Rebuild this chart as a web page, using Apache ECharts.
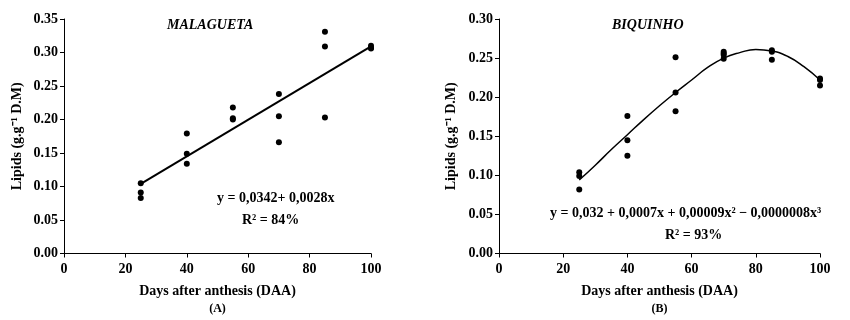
<!DOCTYPE html>
<html>
<head>
<meta charset="utf-8">
<script src="https://cdn.jsdelivr.net/npm/echarts@6/dist/echarts.min.js"></script>
<style>
  html, body { margin: 0; padding: 0; background: #fff; }
  #chart { width: 850px; height: 320px; }
</style>
</head>
<body>
<div id="chart"></div>
<script>
// days after anthesis
const daysMal = [25, 25, 25, 40, 40, 40, 55, 55, 55, 70, 70, 70, 85, 85, 85, 100, 100, 100]
const lipidsMal = [0.105, 0.091, 0.083, 0.179, 0.149, 0.134, 0.218, 0.202, 0.200, 0.238, 0.205, 0.166, 0.331, 0.309, 0.203, 0.310, 0.307, 0.306]
const fitMalX = [25, 100]
const fitMalY = [0.104, 0.309]

const daysBiq = [25, 25, 25, 40, 40, 40, 55, 55, 55, 70, 70, 70, 70, 85, 85, 85, 100, 100, 100]
const lipidsBiq = [0.104, 0.099, 0.082, 0.176, 0.145, 0.125, 0.251, 0.206, 0.182, 0.258, 0.256, 0.254, 0.249, 0.260, 0.258, 0.248, 0.224, 0.222, 0.215]
const fitBiqX = [25, 30, 35, 40, 45, 50, 55, 60, 65, 70, 75, 80, 85, 90, 95, 100]
const fitBiqY = [0.094, 0.113, 0.133, 0.152, 0.171, 0.189, 0.206, 0.222, 0.238, 0.250, 0.257, 0.261, 0.259, 0.252, 0.239, 0.222]

const xTicks = [0, 20, 40, 60, 80, 100]

const font = 'Liberation Serif'
const pair = (xs, ys) => xs.map((x, i) => [x, ys[i]])

const chart = echarts.init(document.getElementById('chart'))

function xAxis(idx, tag) {
  return {
    type: 'value',
    gridIndex: idx,
    min: xTicks[0],
    max: xTicks[xTicks.length - 1],
    interval: 20,
    splitLine: { show: false },
    axisLine: { lineStyle: { color: '#000', width: 1 } },
    axisTick: { length: 4, lineStyle: { color: '#000' } },
    axisLabel: { color: '#000', fontFamily: font, fontWeight: 'bold', fontSize: 14, margin: 9 },
    name: '{n|Days after anthesis (DAA)}\n{p|(' + tag + ')}',
    nameLocation: 'middle',
    nameGap: 28,
    nameTextStyle: {
      rich: {
        n: { color: '#000', fontFamily: font, fontWeight: 'bold', fontSize: 14, lineHeight: 19 },
        p: { color: '#000', fontFamily: font, fontWeight: 'bold', fontSize: 12, lineHeight: 17 },
      },
    },
  }
}

function yAxis(idx, max, gap) {
  return {
    type: 'value',
    gridIndex: idx,
    min: 0,
    max: max,
    interval: 0.05,
    splitLine: { show: false },
    axisLine: { show: true, lineStyle: { color: '#000', width: 1 } },
    axisTick: { show: true, length: 4, lineStyle: { color: '#000' } },
    axisLabel: {
      color: '#000', fontFamily: font, fontWeight: 'bold', fontSize: 14, margin: 6,
      formatter: v => v.toFixed(2),
    },
    name: 'Lipids (g.g⁻¹ D.M)',
    nameLocation: 'middle',
    nameGap: gap,
    nameTextStyle: { color: '#000', fontFamily: font, fontWeight: 'bold', fontSize: 14 },
  }
}

function txt(left, top, text, size, italic) {
  return {
    type: 'text',
    left: left,
    top: top,
    style: {
      text: text,
      fill: '#000',
      font: (italic ? 'italic ' : '') + 'bold ' + size + 'px "' + font + '"',
    },
  }
}

chart.setOption({
  animation: false,
  grid: [
    { left: 64, top: 19, width: 307, height: 235 },
    { left: 499, top: 19, width: 321, height: 236 },
  ],
  xAxis: [xAxis(0, 'A'), xAxis(1, 'B')],
  yAxis: [yAxis(0, 0.35, 40), yAxis(1, 0.30, 41)],
  series: [
    {
      type: 'scatter', xAxisIndex: 0, yAxisIndex: 0,
      data: pair(daysMal, lipidsMal),
      symbolSize: 6, itemStyle: { color: '#000', opacity: 1 },
    },
    {
      type: 'line', xAxisIndex: 0, yAxisIndex: 0,
      data: pair(fitMalX, fitMalY),
      showSymbol: false, lineStyle: { color: '#000', width: 2 },
    },
    {
      type: 'scatter', xAxisIndex: 1, yAxisIndex: 1,
      data: pair(daysBiq, lipidsBiq),
      symbolSize: 6, itemStyle: { color: '#000', opacity: 1 },
    },
    {
      type: 'line', xAxisIndex: 1, yAxisIndex: 1,
      data: pair(fitBiqX, fitBiqY),
      smooth: true, showSymbol: false, lineStyle: { color: '#000', width: 1.5 },
    },
  ],
  graphic: [
    txt(167, 18, 'MALAGUETA', 14, true),
    txt(612, 18, 'BIQUINHO', 14, true),
    txt(217, 191, 'y = 0,0342+ 0,0028x', 14),
    txt(242, 213, 'R² = 84%', 14),
    txt(550, 206, 'y = 0,032 + 0,0007x + 0,00009x² − 0,0000008x³', 14),
    txt(665, 228, 'R² = 93%', 14),
  ],
})
</script>
</body>
</html>
